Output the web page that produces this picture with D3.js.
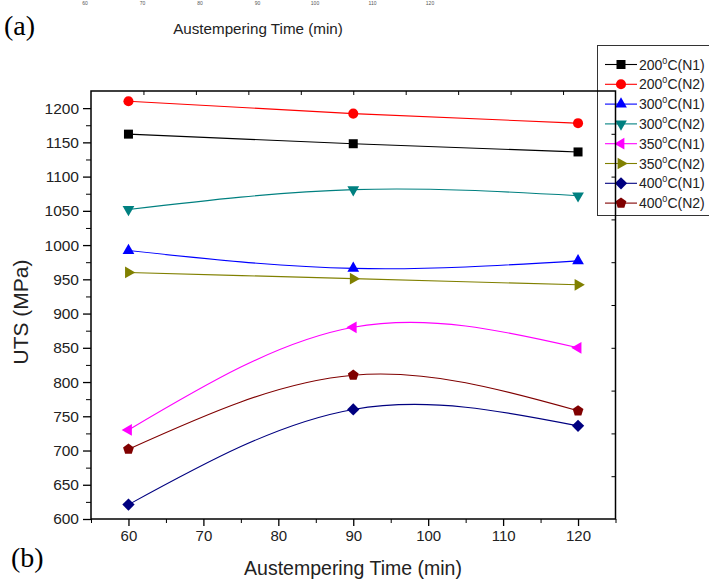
<!DOCTYPE html>
<html>
<head>
<meta charset="utf-8">
<script src="https://cdn.jsdelivr.net/npm/d3@7"></script>
<style>
  body { margin: 0; background: #fff; }
  svg { display: block; font-family: "Liberation Sans", Arial, sans-serif; }
</style>
</head>
<body>
<div id="chart"></div>
<script>
// austempering time (min)
var times = [60, 90, 120];

// UTS (MPa)
var uts200N1 = [1162, 1148, 1136];
var uts200N2 = [1210, 1192, 1178];
var uts300N1 = [992, 966, 977];
var uts300N2 = [1052, 1081, 1072];
var uts350N1 = [730, 880, 850];
var uts350N2 = [960, 951, 942];
var uts400N1 = [621, 760, 736];
var uts400N2 = [702, 810, 758];

var seriesNames = ["200", "200", "300", "300", "350", "350", "400", "400"];
var seriesTags = ["(N1)", "(N2)", "(N1)", "(N2)", "(N1)", "(N2)", "(N1)", "(N2)"];
var seriesColors = ["#000000", "#ff0000", "#0000ff", "#008080", "#ff00ff", "#808000", "#000080", "#800000"];
var seriesShapes = ["square", "circle", "up", "down", "left", "right", "diamond", "pentagon"];

var xMajor = [60, 70, 80, 90, 100, 110, 120];
var xMinor = [55, 65, 75, 85, 95, 105, 115, 125];
var yMajor = [600, 650, 700, 750, 800, 850, 900, 950, 1000, 1050, 1100, 1150, 1200];
var yMinor = [625, 675, 725, 775, 825, 875, 925, 975, 1025, 1075, 1125, 1175];
var topTicks = [62, 69, 76, 83, 90, 97, 104, 111, 118];
var rightTicks = [662.5, 725, 787.5, 850, 912.5, 975, 1037.5, 1100, 1162.5];
var cutTickLabels = ["60", "70", "80", "90", "100", "110", "120"];

function init() {
  var w = 709, h = 581;
  var left = 91, right = 615.5, top = 91, bottom = 519;

  var svg = d3.select("#chart").append("svg")
    .attr("width", w).attr("height", h);

  var xScale = d3.scaleLinear().domain([55, 125]).range([left, right]);
  var yScale = d3.scaleLinear().domain([600, 1225]).range([bottom, top]);

  // polygon markers, size = radius squared
  function poly(n, rot) {
    return {
      draw: function(ctx, size) {
        var r = Math.sqrt(size);
        for (var i = 0; i < n; i++) {
          var a = rot + i * 2 * Math.PI / n;
          var px = r * Math.cos(a), py = r * Math.sin(a);
          if (i === 0) ctx.moveTo(px, py); else ctx.lineTo(px, py);
        }
        ctx.closePath();
      }
    };
  }
  function markerPath(shape) {
    var deg = Math.PI / 180;
    if (shape === "square") return d3.symbol().type(d3.symbolSquare).size(81)();
    if (shape === "circle") return d3.symbol().type(d3.symbolCircle).size(80)();
    if (shape === "up") return d3.symbol().type(poly(3, -90 * deg)).size(46)();
    if (shape === "down") return d3.symbol().type(poly(3, 90 * deg)).size(46)();
    if (shape === "left") return d3.symbol().type(poly(3, 180 * deg)).size(46)();
    if (shape === "right") return d3.symbol().type(poly(3, 0)).size(46)();
    if (shape === "diamond") return d3.symbol().type(poly(4, -90 * deg)).size(38)();
    return d3.symbol().type(poly(5, -90 * deg)).size(32)();
  }

  var allSeries = [uts200N1, uts200N2, uts300N1, uts300N2, uts350N1, uts350N2, uts400N1, uts400N2];

  // legend (drawn first, the frame runs over it)
  var legend = svg.append("g");
  legend.append("rect")
    .attr("x", 597.5).attr("y", 45.5)
    .attr("width", 130).attr("height", 170)
    .attr("fill", "#fff").attr("stroke", "#333").attr("stroke-width", 1);

  var rows = legend.selectAll("g.row")
    .data(seriesNames)
    .enter().append("g")
    .attr("class", "row")
    .attr("transform", function(d, i) { return "translate(0," + (64.5 + i * 19.8) + ")"; });
  rows.append("line")
    .attr("x1", 605).attr("x2", 637).attr("y1", 0).attr("y2", 0)
    .attr("stroke", function(d, i) { return seriesColors[i]; })
    .attr("stroke-width", 1.1);
  rows.append("path")
    .attr("transform", "translate(621,0)")
    .attr("d", function(d, i) { return markerPath(seriesShapes[i]); })
    .attr("fill", function(d, i) { return seriesColors[i]; });
  var lt = rows.append("text")
    .attr("x", 639).attr("y", 5)
    .attr("font-size", 14).attr("fill", "#222");
  lt.append("tspan").text(function(d) { return d; });
  lt.append("tspan").attr("font-size", 9).attr("dy", -6).text("0");
  lt.append("tspan").attr("dy", 6).text(function(d, i) { return "C" + seriesTags[i]; });

  // curves
  var line = d3.line()
    .x(function(d, i) { return xScale(times[i]); })
    .y(function(d) { return yScale(d); })
    .curve(d3.curveNatural);

  svg.selectAll("path.series")
    .data(allSeries)
    .enter().append("path")
    .attr("class", "series")
    .attr("d", line)
    .attr("fill", "none")
    .attr("stroke", function(d, i) { return seriesColors[i]; })
    .attr("stroke-width", 1.1);

  allSeries.forEach(function(vals, si) {
    svg.selectAll("path.m" + si)
      .data(vals)
      .enter().append("path")
      .attr("class", "m" + si)
      .attr("transform", function(d, i) { return "translate(" + xScale(times[i]) + "," + yScale(d) + ")"; })
      .attr("d", markerPath(seriesShapes[si]))
      .attr("fill", seriesColors[si]);
  });

  // axes
  function noDomain(g) { g.select(".domain").remove(); }

  svg.append("g").attr("transform", "translate(0," + bottom + ")")
    .call(d3.axisBottom(xScale).tickValues(xMajor).tickSize(7).tickPadding(4).tickFormat(d3.format("d")))
    .call(noDomain)
    .call(function(g) {
      g.selectAll("text").attr("font-size", 15).attr("fill", "#222").attr("font-family", "Liberation Sans, Arial, sans-serif");
      g.selectAll("line").attr("stroke-width", 1.3);
    });
  svg.append("g").attr("transform", "translate(0," + bottom + ")")
    .call(d3.axisBottom(xScale).tickValues(xMinor).tickSize(4).tickFormat(""))
    .call(noDomain);

  svg.append("g").attr("transform", "translate(" + left + ",0)")
    .call(d3.axisLeft(yScale).tickValues(yMajor).tickSize(8).tickPadding(4).tickFormat(d3.format("d")))
    .call(noDomain)
    .call(function(g) {
      g.selectAll("text").attr("font-size", 15.5).attr("fill", "#222").attr("font-family", "Liberation Sans, Arial, sans-serif");
      g.selectAll("line").attr("stroke-width", 1.3);
    });
  svg.append("g").attr("transform", "translate(" + left + ",0)")
    .call(d3.axisLeft(yScale).tickValues(yMinor).tickSize(5).tickFormat(""))
    .call(noDomain);

  svg.append("g").attr("transform", "translate(0," + top + ")")
    .call(d3.axisTop(xScale).tickValues(topTicks).tickSize(-4).tickFormat(""))
    .call(noDomain);
  svg.append("g").attr("transform", "translate(" + right + ",0)")
    .call(d3.axisRight(yScale).tickValues(rightTicks).tickSize(-4).tickFormat(""))
    .call(noDomain);

  svg.append("rect")
    .attr("x", left).attr("y", top)
    .attr("width", right - left).attr("height", bottom - top)
    .attr("fill", "none").attr("stroke", "#000").attr("stroke-width", 1.5);

  // axis titles
  svg.append("text")
    .attr("x", 353).attr("y", 575)
    .attr("text-anchor", "middle")
    .attr("font-size", 19.5).attr("fill", "#222")
    .text("Austempering Time (min)");

  svg.append("text")
    .attr("transform", "translate(28,312) rotate(-90)")
    .attr("text-anchor", "middle")
    .attr("font-size", 21).attr("fill", "#222")
    .text("UTS (MPa)");

  // leftover of panel (a) above: its tick labels, only a sliver shows
  var topX = d3.scaleLinear().domain([60, 120]).range([85, 430]);
  svg.selectAll("text.cut")
    .data(cutTickLabels)
    .enter().append("text")
    .attr("class", "cut")
    .attr("x", function(d, i) { return topX(xMajor[i]); })
    .attr("y", 5)
    .attr("text-anchor", "middle")
    .attr("font-size", 5).attr("fill", "#555")
    .text(function(d) { return d; });

  svg.append("text")
    .attr("x", 258).attr("y", 34)
    .attr("text-anchor", "middle")
    .attr("font-size", 15.2).attr("fill", "#222")
    .text("Austempering Time (min)");

  svg.append("text")
    .attr("x", 4).attr("y", 35)
    .attr("font-family", "Liberation Serif, Times New Roman, serif")
    .attr("font-size", 28).attr("fill", "#000")
    .text("(a)");
  svg.append("text")
    .attr("x", 11).attr("y", 567)
    .attr("font-family", "Liberation Serif, Times New Roman, serif")
    .attr("font-size", 28).attr("fill", "#000")
    .text("(b)");
}

window.onload = init;
</script>
</body>
</html>
